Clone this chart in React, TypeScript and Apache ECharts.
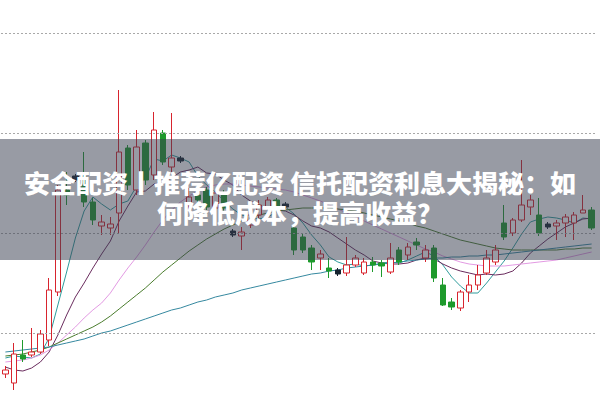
import React, { useEffect, useRef } from "react";
import * as echarts from "echarts";

// [open, close, low, high]
const candles: number[][] = [
  [8.59, 8.63, 8.55, 8.67], [8.5, 8.79, 8.43, 8.9], [8.78, 8.74, 8.71, 8.93], [8.78, 8.81, 8.76, 9.05],
  [8.81, 8.99, 8.79, 9.03], [8.93, 9.43, 8.87, 9.55], [9.41, 10.43, 9.37, 10.48], [10.43, 10.38, 10.28, 10.61],
  [10.57, 10.53, 10.51, 10.59], [10.56, 10.31, 10.26, 10.81], [10.31, 10.13, 10.08, 10.35], [10.07, 10.11, 9.98, 10.18],
  [10.05, 10.09, 9.98, 10.16], [10.2, 10.81, 10.0, 11.43], [10.85, 10.48, 10.43, 10.88], [10.43, 10.86, 10.38, 11.03],
  [10.9, 10.53, 10.48, 10.93], [10.58, 11.03, 10.53, 11.21], [11.0, 10.71, 10.68, 11.03], [10.66, 10.75, 10.61, 11.2],
  [10.75, 10.72, 10.7, 10.77], [10.28, 10.36, 10.23, 10.45], [10.38, 10.33, 10.28, 10.43], [10.43, 10.26, 10.23, 10.46],
  [10.25, 10.4, 10.21, 10.43], [10.4, 10.25, 10.21, 10.43], [10.02, 9.98, 9.96, 10.04], [9.97, 10.01, 9.83, 10.06],
  [10.08, 10.18, 10.05, 10.21], [10.18, 10.28, 10.15, 10.33], [10.25, 10.33, 10.23, 10.36], [10.33, 10.25, 10.22, 10.35],
  [10.29, 10.26, 10.24, 10.31], [10.05, 9.83, 9.78, 10.08], [9.96, 9.83, 9.8, 9.99], [9.85, 9.71, 9.63, 9.88],
  [9.75, 9.79, 9.63, 9.83], [9.65, 9.62, 9.55, 9.75], [9.63, 9.59, 9.57, 9.65], [9.6, 9.68, 9.57, 9.96],
  [9.68, 9.75, 9.66, 9.78], [9.6, 9.71, 9.58, 9.75], [9.71, 9.68, 9.61, 9.76], [9.7, 9.67, 9.56, 9.73],
  [9.61, 9.75, 9.59, 9.9], [9.83, 9.71, 9.68, 9.86], [9.78, 9.86, 9.73, 9.9], [9.91, 9.88, 9.83, 9.95],
  [9.75, 9.83, 9.71, 9.88], [9.85, 9.55, 9.51, 9.88], [9.48, 9.28, 9.27, 9.55], [9.31, 9.26, 9.23, 9.35],
  [9.25, 9.41, 9.22, 9.43], [9.41, 9.48, 9.31, 9.58], [9.48, 9.58, 9.43, 9.68], [9.6, 9.75, 9.58, 9.83],
  [9.71, 9.83, 9.68, 9.88], [10.1, 9.96, 9.93, 10.28], [10.0, 10.13, 9.97, 10.15], [10.13, 10.28, 10.11, 10.73],
  [10.26, 10.33, 10.18, 10.38], [10.18, 10.0, 9.97, 10.35], [10.09, 10.06, 10.04, 10.11], [10.07, 10.1, 9.93, 10.13],
  [10.1, 10.16, 9.96, 10.19], [10.1, 10.18, 9.93, 10.21], [10.2, 10.23, 10.2, 10.38], [10.23, 10.05, 10.03, 10.26],
];

const darkCandles: number[] = [8, 20, 26, 32, 38, 62];

const ma5: number[] = [
  8.75, 8.77, 8.76, 8.75, 8.79, 8.95, 9.28, 9.61, 9.95, 10.22,
  10.36, 10.29, 10.23, 10.29, 10.32, 10.47, 10.55, 10.74, 10.72, 10.78,
  10.75, 10.71, 10.57, 10.48, 10.41, 10.32, 10.24, 10.18, 10.16, 10.14,
  10.16, 10.21, 10.26, 10.19, 10.1, 9.98, 9.88, 9.76, 9.71, 9.68,
  9.69, 9.67, 9.68, 9.7, 9.71, 9.7, 9.73, 9.77, 9.81, 9.77,
  9.68, 9.56, 9.47, 9.4, 9.4, 9.5, 9.61, 9.72, 9.85, 9.99,
  10.11, 10.14, 10.16, 10.15, 10.13, 10.1, 10.15, 10.14,
];
const ma10: number[] = [
  8.66, 8.63, 8.62, 8.65, 8.71, 8.81, 8.98, 9.18, 9.36, 9.5,
  9.65, 9.79, 9.92, 10.12, 10.27, 10.41, 10.42, 10.49, 10.51, 10.55,
  10.61, 10.63, 10.66, 10.6, 10.59, 10.53, 10.48, 10.38, 10.32, 10.28,
  10.24, 10.23, 10.22, 10.18, 10.12, 10.07, 10.05, 10.01, 9.95, 9.89,
  9.83, 9.78, 9.72, 9.7, 9.69, 9.69, 9.7, 9.73, 9.75, 9.74,
  9.69, 9.65, 9.62, 9.6, 9.58, 9.59, 9.58, 9.59, 9.62, 9.7,
  9.8, 9.87, 9.94, 10.0, 10.06, 10.1, 10.14, 10.15,
];
const ma20: number[] = [
  8.71, 8.72, 8.73, 8.75, 8.78, 8.83, 8.9, 8.98, 9.06, 9.15,
  9.23, 9.3, 9.4, 9.53, 9.65, 9.76, 9.88, 10.01, 10.13, 10.23,
  10.31, 10.37, 10.42, 10.46, 10.48, 10.49, 10.49, 10.48, 10.47, 10.46,
  10.45, 10.44, 10.43, 10.41, 10.38, 10.35, 10.32, 10.28, 10.24, 10.2,
  10.16, 10.12, 10.08, 10.04, 10.0, 9.96, 9.92, 9.88, 9.84, 9.81,
  9.77, 9.74, 9.71, 9.69, 9.68, 9.67, 9.67, 9.67, 9.68, 9.69,
  9.7, 9.71, 9.72, 9.73, 9.75, 9.77, 9.79, 9.81,
];
const ma30: number[] = [
  8.77, 8.78, 8.79, 8.81, 8.83, 8.86, 8.9, 8.94, 8.98, 9.02,
  9.06, 9.11, 9.17, 9.24, 9.31, 9.38, 9.45, 9.53, 9.61, 9.68,
  9.75, 9.82, 9.88, 9.94, 9.99, 10.04, 10.08, 10.12, 10.15, 10.18,
  10.2, 10.22, 10.23, 10.24, 10.25, 10.25, 10.25, 10.25, 10.24, 10.23,
  10.22, 10.2, 10.18, 10.16, 10.14, 10.12, 10.1, 10.07, 10.05, 10.02,
  9.99, 9.96, 9.93, 9.91, 9.89, 9.87, 9.85, 9.84, 9.83, 9.83,
  9.83, 9.83, 9.83, 9.83, 9.84, 9.84, 9.85, 9.85,
];
const ma60: number[] = [
  8.81, 8.82, 8.83, 8.84, 8.85, 8.86, 8.88, 8.9, 8.92, 8.94,
  8.97, 9.0, 9.02, 9.05, 9.08, 9.11, 9.14, 9.17, 9.2, 9.23,
  9.25, 9.28, 9.31, 9.33, 9.36, 9.38, 9.4, 9.43, 9.45, 9.47,
  9.49, 9.51, 9.53, 9.55, 9.57, 9.59, 9.6, 9.62, 9.63, 9.65,
  9.66, 9.67, 9.68, 9.69, 9.7, 9.71, 9.72, 9.73, 9.74, 9.75,
  9.75, 9.76, 9.76, 9.77, 9.77, 9.78, 9.78, 9.79, 9.8, 9.81,
  9.82, 9.83, 9.84, 9.85, 9.86, 9.87, 9.88, 9.89,
];

const gridLevels: number[] = [9, 10, 11, 12];
const titleLines: string[] = ["安全配资丨推荐亿配资 信托配资利息大揭秘：如", "何降低成本，提高收益？"];

const categories: string[] = candles.map((_, i) => String(i + 1));

export default function App() {
  const ref = useRef<HTMLDivElement>(null);
  useEffect(() => {
    if (!ref.current) return;
    const chart = echarts.init(ref.current, undefined, { renderer: "svg" });
    const candleData = candles.map((v, i) =>
      darkCandles.includes(i)
        ? { value: v, itemStyle: { color: "#15222e", color0: "#15222e", borderColor: "#15222e", borderColor0: "#15222e" } }
        : v
    );
    const line = (name: string, data: number[], color: string) => ({
      name,
      type: "line",
      data,
      symbol: "none",
      smooth: false,
      lineStyle: { color, width: 1 },
      z: 3,
    });
    chart.setOption({
      animation: false,
      backgroundColor: "#ffffff",
      grid: { left: 1, right: 4, top: 0, bottom: 0 },
      xAxis: {
        type: "category",
        data: categories,
        boundaryGap: true,
        axisLine: { show: false },
        axisTick: { show: false },
        axisLabel: { show: false },
        splitLine: { show: false },
      },
      yAxis: {
        type: "value",
        min: 8.33,
        max: 12.33,
        axisLine: { show: false },
        axisTick: { show: false },
        axisLabel: { show: false },
        splitLine: { show: false },
      },
      series: [
        {
          type: "candlestick",
          data: candleData,
          barWidth: 6,
          z: 4,
          itemStyle: {
            color: "#ffffff",
            color0: "#1e9a2c",
            borderColor: "#d8242e",
            borderColor0: "#1e9a2c",
            borderWidth: 1,
          },
          markLine: {
            silent: true,
            symbol: ["none", "none"],
            label: { show: false },
            lineStyle: { color: "#a8a8a8", type: [2, 2], width: 1 },
            data: gridLevels.map((v) => ({ yAxis: v })),
          },
        },
        line("MA5", ma5, "#2f9c9c"),
        line("MA10", ma10, "#6a2c5e"),
        line("MA20", ma20, "#e39ae3"),
        line("MA30", ma30, "#4b7d2e"),
        line("MA60", ma60, "#3689a0"),
      ],
      graphic: [
        {
          type: "rect",
          z: 100,
          shape: { x: 0, y: 139, width: 600, height: 121 },
          style: { fill: "rgba(58,64,80,0.52)" },
        },
        {
          type: "text",
          z: 101,
          x: 300,
          y: 182,
          scaleX: 1.04,
          style: {
            text: titleLines[0],
            x: 0,
            y: 0,
            align: "center",
            verticalAlign: "middle",
            fill: "#ffffff",
            font: '900 25px "Noto Sans CJK SC", sans-serif',
          },
        },
        {
          type: "text",
          z: 101,
          x: 300,
          y: 212,
          scaleX: 1.04,
          style: {
            text: titleLines[1],
            x: 0,
            y: 0,
            align: "center",
            verticalAlign: "middle",
            fill: "#ffffff",
            font: '900 25px "Noto Sans CJK SC", sans-serif',
          },
        },
      ],
    });
    return () => chart.dispose();
  }, []);
  return (
    <div
      ref={ref}
      style={{ position: "fixed", left: 0, top: 0, width: 600, height: 400, background: "#fff" }}
    />
  );
}
